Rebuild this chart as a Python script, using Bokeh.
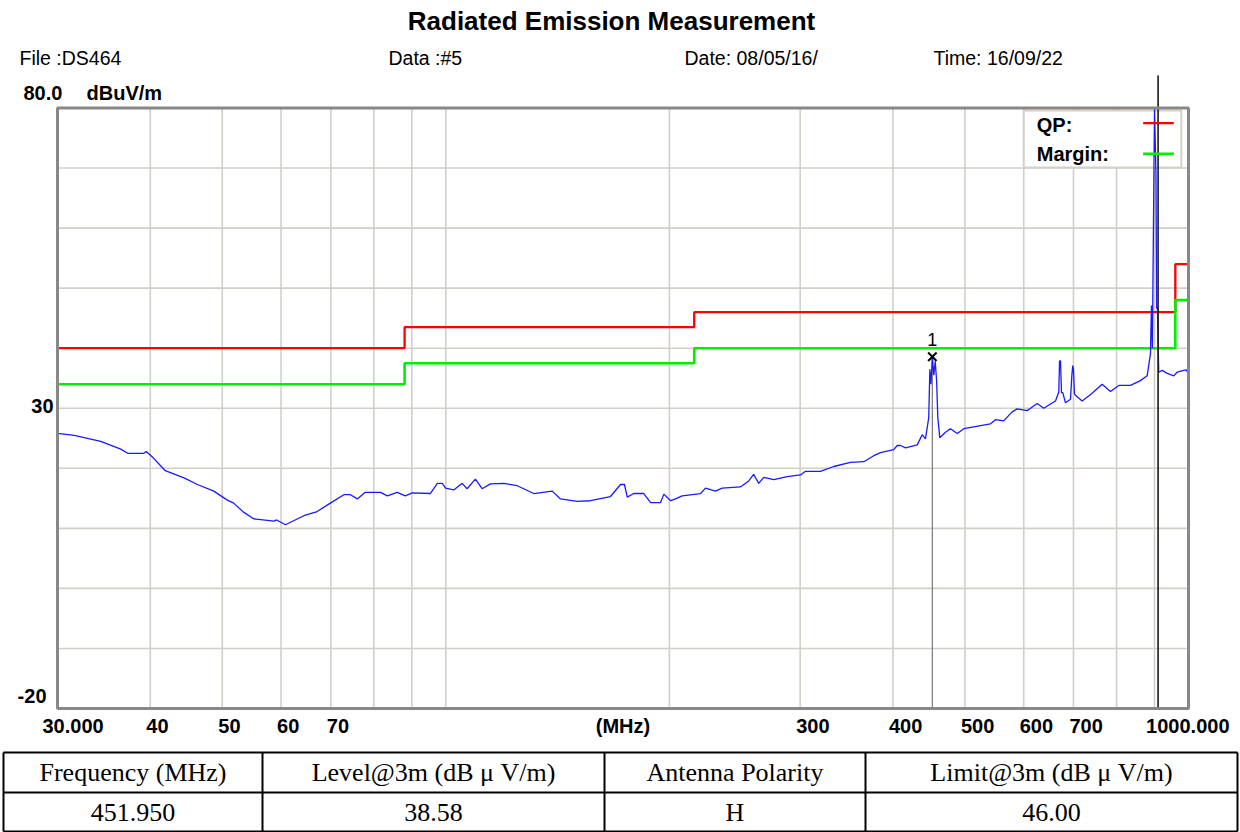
import math
from bokeh.plotting import figure
from bokeh.models import Range1d, LinearScale
from bokeh.embed import file_html
from bokeh.resources import INLINE
from bokeh.core.properties import value

# ---------------- data ----------------
freq_mhz = [30.0, 31.6, 34.3, 36.5, 37.3, 39.2, 39.5, 40.4, 41.9, 44.4,
            46.3, 48.7, 50.8, 51.8, 53.4, 55.1, 58.7, 59.2, 60.8, 64.4,
            67.1, 69.9, 72.9, 74.4, 76.0, 77.9, 81.7, 83.4, 86.0, 88.2,
            90.1, 95.3, 97.4, 98.9, 99.9, 102.5, 105.2, 106.8, 109.6, 111.9,
            114.8, 119.7, 124.8, 131.3, 139.1, 142.7, 150.3, 156.6, 166.6, 171.9,
            174.0, 175.5, 179.1, 184.7, 188.7, 194.6, 196.6, 200.7, 203.8, 208.1,
            220.3, 223.7, 230.7, 235.6, 249.2, 255.8, 259.7, 263.8, 268.0, 276.4,
            288.2, 300.3, 305.0, 319.5, 332.9, 350.6, 365.4, 376.9, 384.9, 401.0,
            405.3, 409.5, 415.9, 431.2, 438.0, 442.4, 446.9, 448.5, 450.0, 451.95,
            454.0, 456.0, 458.0, 459.7, 462.5, 470.7, 478.1, 488.2, 498.3, 514.0,
            524.8, 541.3, 549.7, 563.9, 578.8, 587.9, 606.4, 612.7, 625.5, 638.4,
            651.8, 662.1, 668.9, 670.5, 672.4, 674.5, 677.2, 682.9, 693.6, 696.5,
            698.4, 700.0, 702.1, 706.5, 719.2, 741.7, 765.1, 785.1, 805.6, 835.3,
            861.6, 879.7, 888.8, 891.5, 894.0, 900.0, 904.0, 906.0, 908.0, 911.8,
            921.5, 936.1, 955.4, 965.4, 985.4, 993.0, 1000.0]
level_dbuv = [25.8, 25.5, 24.5, 23.2, 22.5, 22.5, 22.8, 21.7, 19.6, 18.4,
              17.3, 16.2, 14.7, 14.2, 12.7, 11.6, 11.2, 11.4, 10.6, 12.1,
              12.8, 14.2, 15.6, 15.6, 14.9, 16.0, 16.0, 15.4, 16.0, 15.4,
              15.9, 15.8, 17.5, 17.5, 16.7, 16.4, 17.5, 16.6, 18.2, 16.6,
              17.4, 17.5, 17.1, 15.8, 16.2, 14.9, 14.5, 14.6, 15.3, 17.3,
              17.3, 15.2, 15.8, 15.8, 14.3, 14.3, 15.7, 14.6, 14.9, 15.4,
              15.8, 16.7, 16.2, 16.7, 16.9, 17.9, 19.0, 17.5, 18.5, 18.1,
              18.6, 18.9, 19.5, 19.5, 20.3, 21.0, 21.1, 22.1, 22.6, 23.1,
              23.8, 23.8, 23.4, 23.9, 25.6, 24.9, 28.4, 36.5, 34.0, 38.58,
              35.5, 37.8, 34.5, 28.4, 25.1, 26.0, 26.6, 25.8, 26.6, 26.9,
              27.1, 27.4, 28.1, 27.9, 29.4, 29.9, 29.6, 30.0, 30.8, 30.0,
              30.7, 31.2, 32.7, 37.9, 37.9, 32.6, 32.6, 30.9, 31.5, 35.4,
              37.1, 36.5, 32.4, 32.0, 31.2, 32.5, 34.0, 32.8, 33.8, 33.8,
              34.6, 35.4, 39.1, 47.1, 40.0, 80.0, 69.0, 46.6, 47.0, 36.0,
              36.3, 35.8, 35.4, 36.0, 36.3, 36.4, 35.7]

limit_edges_mhz = [30, 88, 216, 960, 1000]
qp_limit = [40, 43.5, 46, 54, 54]
margin_limit = [34, 37.5, 40, 48, 48]

x_ticks = [30, 40, 50, 60, 70, 300, 400, 500, 600, 700, 1000]
x_tick_labels = ["30.000", "40", "50", "60", "70", "300", "400", "500", "600", "700", "1000.000"]
x_grid = [40, 50, 60, 70, 80, 90, 100, 200, 300, 400, 500, 600, 700, 800, 900]
y_grid = [-10, 0, 10, 20, 30, 40, 50, 60, 70]
y_min, y_max = -20, 80
x_min, x_max = 30, 1000

marker_freq = 451.950
marker_level = 38.58
cursor_freq = 910

title_text = "Radiated Emission Measurement"
info_texts = ["File :DS464", "Data :#5", "Date: 08/05/16/", "Time: 16/09/22"]
legend_names = ["QP:", "Margin:"]

table_headers = ["Frequency (MHz)", "Level@3m (dB \u03bc V/m)", "Antenna Polarity", "Limit@3m (dB \u03bc V/m)"]
table_row = ["451.950", "38.58", "H", "46.00"]

# ---------------- layout (pixels) ----------------
W, H = 1240, 832
PL, PR, PT, PB = 57, 1188, 107.5, 708     # plot-area edges on the canvas
SANS = "Liberation Sans"
SERIF = "Liberation Serif"
GRID = "#d3cfc8"
BLUE = "#1a1aff"

px_per_dec = (PR - PL) / math.log10(x_max / x_min)
px_per_db = (PB - PT) / (y_max - y_min)
xr = Range1d(x_min / 10 ** (PL / px_per_dec), x_max * 10 ** ((W - PR) / px_per_dec))
yr = Range1d(y_min - (H - PB) / px_per_db, y_max + PT / px_per_db)

p = figure(width=W, height=H, x_axis_type="log", x_range=xr, y_range=yr,
           x_axis_location=None, y_axis_location=None, min_border=0,
           extra_x_ranges={"px": Range1d(0, W)}, extra_y_ranges={"px": Range1d(H, 0)},
           extra_x_scales={"px": LinearScale()}, extra_y_scales={"px": LinearScale()},
           toolbar_location=None, output_backend="svg")
p.background_fill_color = "white"
p.border_fill_color = "white"
p.outline_line_color = None
p.grid.visible = False

# grid
p.segment(x0=x_grid, y0=[y_min] * len(x_grid), x1=x_grid, y1=[y_max] * len(x_grid),
          line_color=GRID, line_width=1.6)
p.segment(x0=[x_min] * len(y_grid), y0=y_grid, x1=[x_max] * len(y_grid), y1=y_grid,
          line_color=GRID, line_width=1.6)

# legend box (white, grey border) drawn under the traces
p.quad(left=[600], right=[978], top=[79.6], bottom=[70.1],
       fill_color="white", line_color="#d4d0c8", line_width=2)

# limit lines
p.step(x=limit_edges_mhz, y=qp_limit, mode="after", line_color="#ff0000", line_width=2.3)
p.step(x=limit_edges_mhz, y=margin_limit, mode="after", line_color="#00ee00", line_width=2.6)

# marker vertical line
p.segment(x0=[marker_freq], y0=[y_min], x1=[marker_freq], y1=[marker_level],
          line_color="#7a7a7a", line_width=1.2)

# measured trace
p.line(freq_mhz, level_dbuv, line_color=BLUE, line_width=1.3)

# cursor line (extends above the plot area)
p.segment(x0=[cursor_freq], y0=[y_min], x1=[cursor_freq], y1=[y_max + (PT - 75) / px_per_db],
          line_color="#1a1a1a", line_width=1.6)

# plot-area border
p.quad(left=[x_min], right=[x_max], top=[y_max], bottom=[y_min],
       fill_color=None, line_color="#888888", line_width=3)

# marker
p.scatter([marker_freq], [marker_level], marker="x", size=12,
          line_color="black", line_width=2)
p.text(x=[marker_freq], y=[marker_level], text=["1"], y_offset=-17,
       text_font=value(SANS), text_font_size="18px", text_align="center",
       text_baseline="middle", text_color="black")

# custom legend (label left, line sample right)
p.text(x=[600, 600], y=[77.25, 72.3], text=legend_names, x_offset=13,
       text_font=value(SANS), text_font_style="bold", text_font_size="20px",
       text_align="left", text_baseline="middle", text_color="black")
p.segment(x0=[868.8], y0=[77.47], x1=[955.5], y1=[77.47], line_color="#ff0000", line_width=2.2)
p.segment(x0=[868.8], y0=[72.37], x1=[955.5], y1=[72.37], line_color="#00ee00", line_width=2.8)

# header texts (pixel space)
p.text(x=[611], y=[20], text=[title_text], x_range_name="px", y_range_name="px",
       text_font=value(SANS), text_font_style="bold", text_font_size="26px",
       text_align="center", text_baseline="middle", text_color="black")
p.text(x=[19, 388, 684, 933], y=[57] * 4, text=info_texts, x_range_name="px", y_range_name="px",
       text_font=value(SANS), text_font_size="19.5px",
       text_align="left", text_baseline="middle", text_color="black")
p.text(x=[23, 86], y=[92, 92], text=["80.0", "dBuV/m"], x_range_name="px", y_range_name="px",
       text_font=value(SANS), text_font_style="bold", text_font_size="20px",
       text_align="left", text_baseline="middle", text_color="black")

# y tick labels
p.text(x=[x_min], y=[30], text=["30"], x_offset=-4, y_offset=-2.5,
       text_font=value(SANS), text_font_style="bold", text_font_size="20px",
       text_align="right", text_baseline="middle", text_color="black")
p.text(x=[x_min], y=[y_min], text=["-20"], x_offset=-11, y_offset=-13,
       text_font=value(SANS), text_font_style="bold", text_font_size="20px",
       text_align="right", text_baseline="middle", text_color="black")

# x tick labels
p.text(x=x_ticks[:1], y=[y_min], text=x_tick_labels[:1], x_offset=-15, y_offset=17,
       text_font=value(SANS), text_font_style="bold", text_font_size="20px",
       text_align="left", text_baseline="middle", text_color="black")
p.text(x=x_ticks[1:-1], y=[y_min] * (len(x_ticks) - 2), text=x_tick_labels[1:-1],
       x_offset=-4, y_offset=17,
       text_font=value(SANS), text_font_style="bold", text_font_size="20px",
       text_align="left", text_baseline="middle", text_color="black")
p.text(x=x_ticks[-1:], y=[y_min], text=x_tick_labels[-1:], x_offset=41, y_offset=17,
       text_font=value(SANS), text_font_style="bold", text_font_size="20px",
       text_align="right", text_baseline="middle", text_color="black")
p.text(x=[(PL + PR) / 2], y=[PB + 17], text=["(MHz)"], x_range_name="px", y_range_name="px",
       text_font=value(SANS), text_font_style="bold", text_font_size="20px",
       text_align="center", text_baseline="middle", text_color="black")

# ---------------- table (pixel space) ----------------
col_edges = [3, 262, 604, 865, 1237]
row_edges = [752, 792, 831]
p.segment(x0=[col_edges[0]] * 3, y0=row_edges, x1=[col_edges[-1]] * 3, y1=row_edges,
          x_range_name="px", y_range_name="px", line_color="black", line_width=2)
p.segment(x0=col_edges, y0=[row_edges[0]] * 5, x1=col_edges, y1=[row_edges[-1]] * 5,
          x_range_name="px", y_range_name="px", line_color="black", line_width=2)
centers = [(col_edges[i] + col_edges[i + 1]) / 2 for i in range(4)]
p.text(x=centers, y=[(row_edges[0] + row_edges[1]) / 2] * 4, text=table_headers,
       x_range_name="px", y_range_name="px",
       text_font=value(SERIF), text_font_size="26px", text_align="center",
       text_baseline="middle", text_color="black")
p.text(x=centers, y=[(row_edges[1] + row_edges[2]) / 2] * 4, text=table_row,
       x_range_name="px", y_range_name="px",
       text_font=value(SERIF), text_font_size="26px", text_align="center",
       text_baseline="middle", text_color="black")

open("out.html", "w").write(file_html(p, INLINE, title="Radiated Emission Measurement"))
